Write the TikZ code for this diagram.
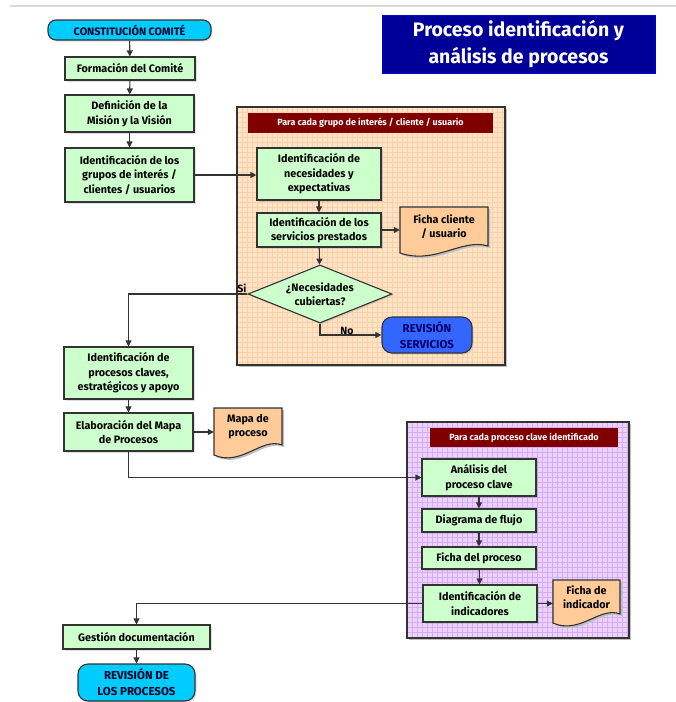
\documentclass[tikz,border=0pt]{standalone}
\usepackage{fontspec}
\setmainfont{Fira Sans}
\usetikzlibrary{arrows.meta,shapes.geometric,calc,shadows}
\definecolor{boxgreen}{HTML}{CCFFCC}
\definecolor{cyanbox}{HTML}{00CCFF}
\definecolor{bluebox}{HTML}{3366FF}
\definecolor{navy}{HTML}{000099}
\definecolor{darkred}{HTML}{800000}
\definecolor{docorange}{HTML}{FFCC99}
\definecolor{orangebg}{HTML}{FFE4C8}
\definecolor{orangegrid}{HTML}{FAD0A8}
\definecolor{purplebg}{HTML}{EBD2FF}
\definecolor{purplegrid}{HTML}{D6ADF5}
\definecolor{edgegray}{HTML}{333333}
\newcommand{\docshape}[5]{% x1 y1 x2 ybRight ybLeft
  \fill[black!25] (#1+2,#2+2) -- (#3+2,#2+2) -- (#3+2,#4+2) .. controls ({#3-0.3*(#3-#1)+2},{#4-8+2}) and ({#1+0.4*(#3-#1)+2},{#5+12+2}) .. (#1+2,#5+2) -- cycle;
  \draw[fill=docorange, draw=edgegray, line width=1.1pt] (#1,#2) -- (#3,#2) -- (#3,#4) .. controls ({#3-0.3*(#3-#1)},{#4-8}) and ({#1+0.4*(#3-#1)},{#5+12}) .. (#1,#5) -- cycle;}
\begin{document}
\begin{tikzpicture}[x=1pt,y=-1pt,
  proc/.style={draw=edgegray, line width=1.1pt, fill=boxgreen, align=center, inner sep=0pt,
    font=\bfseries\fontsize{10.8}{14.5}\selectfont,
    drop shadow={shadow xshift=1.5pt, shadow yshift=-1.5pt, opacity=0.25}},
  term/.style={proc, rounded corners=8pt, fill=cyanbox, text=black!85!blue},
  docnode/.style={align=center, inner sep=0pt, font=\bfseries\fontsize{10.8}{14.5}\selectfont},
  header/.style={fill=darkred, text=white, inner sep=0pt, font=\bfseries\fontsize{9}{10}\selectfont},
  arr/.style={draw=edgegray, line width=1.1pt, -{Triangle[length=6pt,width=6pt]}},
  lbl/.style={font=\bfseries\fontsize{10.5}{12}\selectfont, inner sep=1pt}]
\useasboundingbox (0,0) rectangle (676,702);
\fill[white] (0,0) rectangle (676,702);
\draw[black!15, line width=1.5pt] (10,6) -- (676,6);

% title
\node[fill=navy, draw=blue!60!navy, line width=0.8pt, text=white, minimum width=273, minimum height=58,
  inner sep=0pt, align=center, font=\bfseries\fontsize{19.5}{27}\selectfont] (title) at (518.5,44)
  {Proceso identificación y\\análisis de procesos};

% orange container
\fill[black!25] (239,109) rectangle (507,367);
\fill[orangebg] (237,107) rectangle (505,365);
\begin{scope}
\clip (237,107) rectangle (505,365);
\foreach \i in {0,...,54} \draw[orangegrid, line width=0.35pt] (237+5*\i,107) -- (237+5*\i,365);
\foreach \j in {0,...,52} \draw[orangegrid, line width=0.35pt] (237,107+5*\j) -- (505,107+5*\j);
\end{scope}
\draw[edgegray, line width=1.1pt] (237,107) rectangle (505,365);
\node[header, minimum width=245, minimum height=20] (h1) at (370.5,123)
  {Para cada grupo de interés / cliente / usuario};

% purple container
\fill[black!25] (409,424) rectangle (631,640);
\fill[purplebg] (407,422) rectangle (629,638);
\begin{scope}
\clip (407,422) rectangle (629,638);
\foreach \i in {0,...,45} \draw[purplegrid, line width=0.35pt] (407+5*\i,422) -- (407+5*\i,638);
\foreach \j in {0,...,44} \draw[purplegrid, line width=0.35pt] (407,422+5*\j) -- (629,422+5*\j);
\end{scope}
\draw[edgegray, line width=1.1pt] (407,422) rectangle (629,638);
\node[header, minimum width=188, minimum height=19] (h2) at (524,437.5)
  {Para cada proceso clave identificado};

% left column
\node[term, minimum width=163, minimum height=20] (const) at (129.5,30) {CONSTITUCIÓN COMITÉ};
\node[proc, minimum width=130, minimum height=23] (form) at (130,68.5) {Formación del Comité};
\node[proc, minimum width=129, minimum height=37] (defi) at (129.5,113.5) {Definición de la\\Misión y la Visión};
\node[proc, minimum width=129, minimum height=54] (grupos) at (129.5,175) {Identificación de los\\grupos de interés /\\clientes / usuarios};
\node[proc, minimum width=129, minimum height=52] (procs) at (128.5,373) {Identificación de\\procesos claves,\\estratégicos y apoyo};
\node[proc, minimum width=129, minimum height=38] (elab) at (128.5,432) {Elaboración del Mapa\\de Procesos};
\node[proc, minimum width=147, minimum height=24] (gest) at (136.5,637) {Gestión documentación};
\node[term, rounded corners=10pt, minimum width=117, minimum height=37, font=\bfseries\fontsize{11.5}{16}\selectfont] (revp) at (136.5,682.5) {REVISIÓN DE\\LOS PROCESOS};

% orange block contents
\node[proc, minimum width=124, minimum height=52] (needs) at (319,174) {Identificación de\\necesidades y\\expectativas};
\node[proc, minimum width=124, minimum height=34] (serv) at (319,230) {Identificación de los\\servicios prestados};
\node[proc, diamond, minimum width=144, minimum height=58, shape aspect=2.5] (dia) at (320,294) {¿Necesidades\\cubiertas?};
\node[proc, rounded corners=10pt, fill=bluebox, text=navy!70!black, minimum width=90, minimum height=36,
  font=\bfseries\fontsize{11.5}{16}\selectfont] (revs) at (427,335) {REVISIÓN\\SERVICIOS};
\docshape{400}{207}{488}{246}{253}
\node[docnode, minimum width=88, minimum height=39] (fcli) at (444,226.5) {Ficha cliente\\/ usuario};

% mapa de proceso
\docshape{214}{408}{282}{445}{455}
\node[docnode, minimum width=68, minimum height=37] (mapa) at (248,426.5) {Mapa de\\proceso};

% purple block contents
\node[proc, minimum width=114, minimum height=37] (anal) at (479,477.5) {Análisis del\\proceso clave};
\node[proc, minimum width=114, minimum height=23] (diag) at (479,520.5) {Diagrama de flujo};
\node[proc, minimum width=114, minimum height=22] (fproc) at (479,558) {Ficha del proceso};
\node[proc, minimum width=114, minimum height=37] (ind) at (480,603.5) {Identificación de\\indicadores};
\docshape{553}{580}{620}{614}{623}
\node[docnode, minimum width=67, minimum height=34] (find) at (586.5,597) {Ficha de\\indicador};

% connectors
\draw[arr] (const) -- (form);
\draw[arr] (form) -- (defi);
\draw[arr] (defi) -- (grupos);
\draw[arr] (grupos.east) -- (grupos.east -| needs.west);
\draw[arr] (needs) -- (serv);
\draw[arr] (serv.east) -- (serv.east -| fcli.west);
\draw[arr] (serv) -- (dia);
\draw[arr] (dia.west) -| (procs.north);
\node[lbl, anchor=south east] at (dia.west) {Si};
\draw[arr] (dia.south) |- (revs.west);
\node[lbl, anchor=south] at (347,336) {No};
\draw[arr] (procs) -- (elab);
\draw[arr] (elab.east) -- (elab.east -| mapa.west);
\draw[arr] (elab.south) |- (anal.west);
\draw[arr] (anal) -- (diag);
\draw[arr] (diag) -- (fproc);
\draw[arr] (fproc) -- (ind);
\draw[arr] (ind.east) -- (ind.east -| find.west);
\draw[arr] (ind.west) -| (gest.north);
\draw[arr] (gest) -- (revp);
\end{tikzpicture}
\end{document}
